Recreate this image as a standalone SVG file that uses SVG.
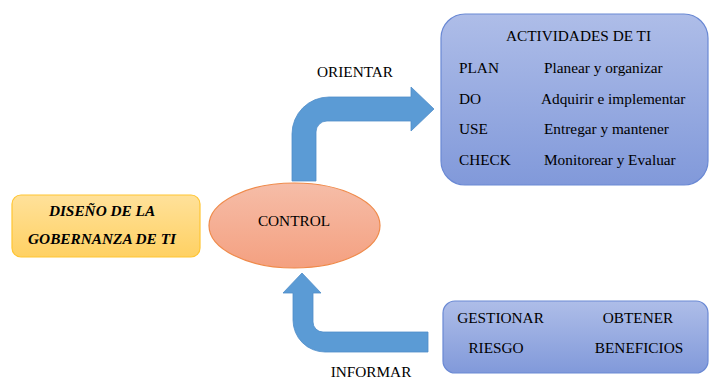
<svg xmlns="http://www.w3.org/2000/svg" width="709" height="380" viewBox="0 0 709 380">
  <defs>
    <linearGradient id="gYellow" x1="0" y1="0" x2="0" y2="1">
      <stop offset="0" stop-color="#ffe19a"/>
      <stop offset="1" stop-color="#ffd163"/>
    </linearGradient>
    <linearGradient id="gSalmon" x1="0" y1="0" x2="0" y2="1">
      <stop offset="0" stop-color="#f6bda8"/>
      <stop offset="1" stop-color="#f4a080"/>
    </linearGradient>
    <linearGradient id="gBlue" x1="0" y1="0" x2="0" y2="1">
      <stop offset="0" stop-color="#aebde8"/>
      <stop offset="1" stop-color="#8199da"/>
    </linearGradient>
  </defs>

  <!-- connectors -->
  <g id="connectors" fill="#5b9bd5" stroke="#4f8dc9" stroke-width="0.8">
    <path id="orientar-arrow" d="M292,181 L292,134 A37,37 0 0 1 329,97 L411,97 L411,87 L434,109 L411,131 L411,121 L327,121 A11,11 0 0 0 316,132 L316,181 Z"/>
    <path id="informar-arrow" d="M302,273 L321,293 L313,293 L313,322 A10,10 0 0 0 323,332 L428,332 L428,352 L325,352 A32,32 0 0 1 293,320 L293,293 L283,293 Z"/>
  </g>
  <text x="355" y="77" font-size="15.3" font-family="Liberation Serif" text-anchor="middle">ORIENTAR</text>
  <text x="371" y="377" font-size="15.3" font-family="Liberation Serif" text-anchor="middle">INFORMAR</text>

  <!-- design box -->
  <g id="diseno">
    <rect x="12" y="195" width="188" height="62" rx="9" fill="url(#gYellow)" stroke="#ffc533" stroke-width="1.2"/>
    <text x="102" y="216" font-size="15.3" font-family="Liberation Serif" font-weight="bold" font-style="italic" text-anchor="middle">DISE&#209;O DE LA</text>
    <text x="102" y="244" font-size="15.3" font-family="Liberation Serif" font-weight="bold" font-style="italic" text-anchor="middle">GOBERNANZA DE TI</text>
  </g>

  <!-- control ellipse -->
  <g id="control">
    <ellipse cx="294.5" cy="225.5" rx="85.5" ry="42.5" fill="url(#gSalmon)" stroke="#ef8a4a" stroke-width="1.2"/>
    <text x="294" y="226" font-size="15.3" font-family="Liberation Serif" text-anchor="middle">CONTROL</text>
  </g>

  <!-- IT activities -->
  <g id="actividades">
    <rect x="441" y="14" width="267" height="171" rx="24" fill="url(#gBlue)" stroke="#6a89d4" stroke-width="1.2"/>
    <text x="578.5" y="41" font-size="15.3" font-family="Liberation Serif" text-anchor="middle">ACTIVIDADES DE TI</text>
    <text x="459" y="73" font-size="15.3" font-family="Liberation Serif">PLAN</text>
    <text x="544" y="73" font-size="15.3" font-family="Liberation Serif">Planear y organizar</text>
    <text x="459" y="104" font-size="15.3" font-family="Liberation Serif">DO</text>
    <text x="541" y="104" font-size="15.3" font-family="Liberation Serif">Adquirir e implementar</text>
    <text x="459" y="134" font-size="15.3" font-family="Liberation Serif">USE</text>
    <text x="544" y="134" font-size="15.3" font-family="Liberation Serif">Entregar y mantener</text>
    <text x="459" y="165" font-size="15.3" font-family="Liberation Serif">CHECK</text>
    <text x="544" y="165" font-size="15.3" font-family="Liberation Serif">Monitorear y Evaluar</text>
  </g>

  <!-- risk / benefits -->
  <g id="gestion">
    <rect x="443" y="301" width="265" height="72" rx="12" fill="url(#gBlue)" stroke="#6a89d4" stroke-width="1.2"/>
    <text x="500.5" y="323" font-size="15.3" font-family="Liberation Serif" text-anchor="middle">GESTIONAR</text>
    <text x="638" y="323" font-size="15.3" font-family="Liberation Serif" text-anchor="middle">OBTENER</text>
    <text x="496" y="353" font-size="15.3" font-family="Liberation Serif" text-anchor="middle">RIESGO</text>
    <text x="639" y="353" font-size="15.3" font-family="Liberation Serif" text-anchor="middle">BENEFICIOS</text>
  </g>
</svg>
